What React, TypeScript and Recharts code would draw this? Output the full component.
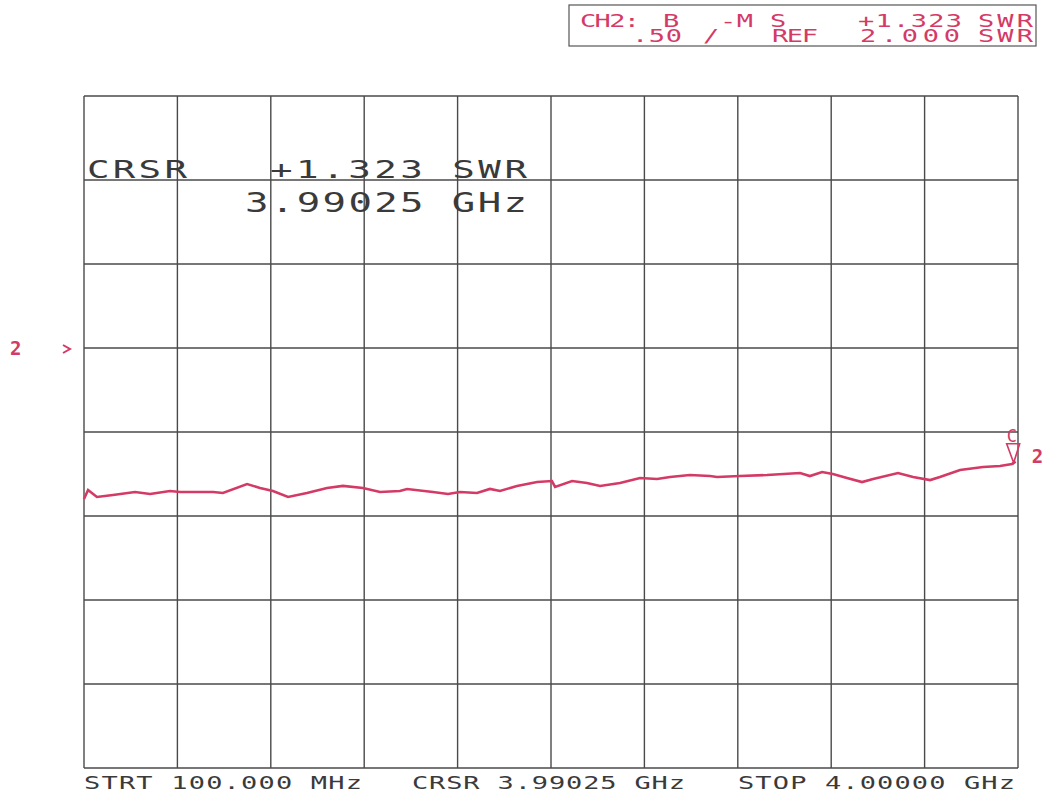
import React from 'react'
import { LineChart, Line, XAxis, YAxis, CartesianGrid, ReferenceDot } from 'recharts'

// Sweep 100 MHz .. 4 GHz, SWR trace
const freqGHz = [
  0.1, 0.117, 0.154, 0.221, 0.313, 0.376, 0.459, 0.501, 0.639, 0.68, 0.781, 0.835, 0.889, 0.952,
  1.031, 1.115, 1.181, 1.265, 1.336, 1.419, 1.449, 1.557, 1.62, 1.67, 1.741, 1.795, 1.837, 1.908,
  1.992, 2.054, 2.067, 2.138, 2.2, 2.255, 2.338, 2.422, 2.493, 2.547, 2.63, 2.714, 2.743, 2.839,
  2.952, 3.09, 3.131, 3.182, 3.227, 3.286, 3.349, 3.395, 3.499, 3.562, 3.633, 3.674, 3.758, 3.854,
  3.925, 3.975, 3.99025,
]
const swr = [
  1.101, 1.155, 1.113, 1.125, 1.143, 1.131, 1.149, 1.143, 1.143, 1.137, 1.19, 1.167, 1.149, 1.113,
  1.137, 1.167, 1.179, 1.167, 1.143, 1.149, 1.161, 1.143, 1.131, 1.143, 1.137, 1.161, 1.149, 1.179,
  1.202, 1.208, 1.173, 1.208, 1.196, 1.179, 1.196, 1.226, 1.22, 1.232, 1.244, 1.238, 1.232, 1.238,
  1.244, 1.256, 1.238, 1.262, 1.25, 1.226, 1.202, 1.22, 1.256, 1.232, 1.214, 1.232, 1.274, 1.292,
  1.298, 1.31, 1.323,
]

// graticule: 10 x 8 divisions, .50 SWR / div, REF 2.000 on the third line
const xGridTicks = [0.1, 0.49, 0.88, 1.27, 1.66, 2.05, 2.44, 2.83, 3.22, 3.61, 4.0]
const yGridTicks = [-0.5, 0, 0.5, 1, 1.5, 2, 2.5, 3, 3.5]

const refLevel = 2
const cursorFreq = 3.99025
const cursorValue = 1.323

const headerLine1 = [
  { text: 'CH2:', x: 580, w: 60 },
  { text: 'B', x: 663, w: 17 },
  { text: '-M', x: 720, w: 33 },
  { text: 'S', x: 770, w: 16 },
  { text: '+1.323', x: 858, w: 104 },
  { text: 'SWR', x: 978, w: 55 },
]
const headerLine2 = [
  { text: '.50', x: 632, w: 50 },
  { text: '/', x: 703, w: 12 },
  { text: 'REF', x: 772, w: 46 },
  { text: '2.000', x: 860, w: 100 },
  { text: 'SWR', x: 978, w: 55 },
]
const footer = [
  { text: 'STRT 100.000 MHz', x: 84, w: 278 },
  { text: 'CRSR 3.99025 GHz', x: 412, w: 273 },
  { text: 'STOP 4.00000 GHz', x: 738, w: 277 },
]

const chartData = freqGHz.map((f, i) => ({ f, swr: swr[i] }))

const W = 1047
const H = 795
const TRACE = '#d43a66'
const INK = '#3a3a3a'
const FONT = '"DejaVu Sans Mono", monospace'
const STRETCH = 1.5 // plotter characters are wide

function PlotText({ x, y, w, text, size, fill }: { x: number; y: number; w: number; text: string; size: number; fill: string }) {
  const fit = text.length > 1 ? { textLength: w / STRETCH, lengthAdjust: 'spacing' } : {}
  return (
    <g transform={`translate(${x},${y}) scale(${STRETCH},1)`}>
      <text x={0} y={0} {...fit} fontSize={size} fontFamily={FONT} fill={fill}>
        {text}
      </text>
    </g>
  )
}

const RefMarker = (props: any) => {
  const { cx, cy } = props
  return (
    <g>
      <text x={cx - 74} y={cy + 7} fontSize={19} fontWeight="bold" fontFamily={FONT} fill={TRACE}>2</text>
      <polyline points={`${cx - 21},${cy - 3} ${cx - 14},${cy + 1} ${cx - 21},${cy + 5}`} fill="none" stroke={TRACE} strokeWidth={2} />
    </g>
  )
}

const CursorMarker = (props: any) => {
  const { cx, cy } = props
  return (
    <g>
      <text x={cx - 9} y={cy - 20} fontSize={17} fontFamily={FONT} fill={TRACE}>C</text>
      <polygon points={`${cx - 9},${cy - 18} ${cx + 4},${cy - 18} ${cx - 2},${cy + 1}`} fill="none" stroke={TRACE} strokeWidth={1.6} />
      <text x={cx + 16} y={cy + 1} fontSize={19} fontWeight="bold" fontFamily={FONT} fill={TRACE}>2</text>
    </g>
  )
}

export default function App() {
  return (
    <div style={{ position: 'relative', width: W, height: H, background: '#fff' }}>
      <style>{'html, body { margin: 0; overflow: hidden; }'}</style>
      <LineChart
        width={W}
        height={H}
        data={chartData}
        margin={{ top: 96, right: 29, left: 84, bottom: 27 }}
      >
        <CartesianGrid stroke="#4a4a4a" strokeWidth={1.4} />
        <XAxis dataKey="f" type="number" domain={[0.1, 4.0]} ticks={xGridTicks} hide />
        <YAxis type="number" domain={[-0.5, 3.5]} ticks={yGridTicks} hide />
        <Line
          type="linear"
          dataKey="swr"
          stroke={TRACE}
          strokeWidth={2.6}
          dot={false}
          isAnimationActive={false}
        />
        <ReferenceDot x={0.1} y={refLevel} ifOverflow="visible" shape={RefMarker} />
        <ReferenceDot x={cursorFreq} y={cursorValue} ifOverflow="visible" shape={CursorMarker} />
      </LineChart>
      <svg
        width={W}
        height={H}
        style={{ position: 'absolute', left: 0, top: 0, pointerEvents: 'none' }}
      >
        <rect x={569} y={5} width={467} height={41} fill="none" stroke="#555" strokeWidth={1.2} />
        {headerLine1.map((t, i) => (
          <PlotText key={'h1' + i} x={t.x} y={27} w={t.w} text={t.text} size={18} fill={TRACE} />
        ))}
        {headerLine2.map((t, i) => (
          <PlotText key={'h2' + i} x={t.x} y={42} w={t.w} text={t.text} size={18} fill={TRACE} />
        ))}
        <PlotText x={87} y={178} w={100} text="CRSR" size={25} fill={INK} />
        <PlotText x={270} y={178} w={257} text="+1.323 SWR" size={25} fill={INK} />
        <PlotText x={245} y={212} w={282} text="3.99025 GHz" size={26} fill={INK} />
        {footer.map((t, i) => (
          <PlotText key={'f' + i} x={t.x} y={789} w={t.w} text={t.text} size={18} fill={INK} />
        ))}
      </svg>
    </div>
  )
}
